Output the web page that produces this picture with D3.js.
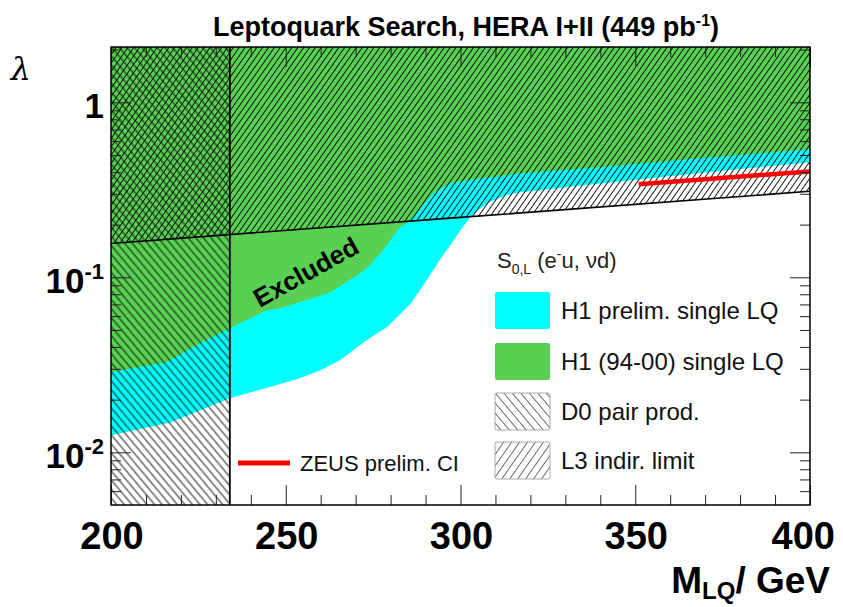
<!DOCTYPE html>
<html><head><meta charset="utf-8">
<script src="https://cdn.jsdelivr.net/npm/d3@7"></script>
<style>body{margin:0;background:#fff} svg{display:block}</style>
</head><body><svg id="c" width="843" height="607"></svg>
<script>
// ---- data ----
const massH1prelim   = [200, 217, 234, 245, 254, 260, 265.5, 273, 279, 285.5, 289, 294, 300, 303, 305, 308, 313, 317, 340, 368, 400];
const lambdaH1prelim = [0.0125, 0.0148, 0.0204, 0.0235, 0.0265, 0.0294, 0.0336, 0.0436, 0.052, 0.070, 0.0877, 0.125, 0.186, 0.223, 0.241, 0.268, 0.294, 0.306, 0.344, 0.393, 0.454];
const massH1old      = [200, 206, 216, 225.5, 234, 244.6, 248.4, 254, 262.7, 270.4, 273.2, 277.8, 282.7, 284.7, 286.4, 292.1, 297, 303.6, 311.3, 317, 340, 368.5, 400];
const lambdaH1old    = [0.0286, 0.0302, 0.0327, 0.042, 0.0511, 0.0648, 0.0665, 0.072, 0.082, 0.1026, 0.1125, 0.1427, 0.193, 0.204, 0.220, 0.302, 0.344, 0.363, 0.378, 0.393, 0.425, 0.479, 0.539];
const massL3   = [200, 300, 400];
const lambdaL3 = [0.156, 0.22, 0.31];
const massZeus   = [351, 400];
const lambdaZeus = [0.34, 0.403];
const massD0 = 234;
const xMajorTicks = [200, 250, 300, 350, 400];
const xTickLabels = ["200", "250", "300", "350", "400"];
const xMinorTicks = [210,220,230,240,260,270,280,290,310,320,330,340,360,370,380,390];
const yMajorTicks = [1, 0.1, 0.01];
const yTickLabels = [["1",""], ["10","-1"], ["10","-2"]];
const yMinorTicks = [0.006,0.007,0.008,0.009,0.02,0.03,0.04,0.05,0.06,0.07,0.08,0.09,0.2,0.3,0.4,0.5,0.6,0.7,0.8,0.9,2];
const legendNames = ["H1 prelim. single LQ", "H1 (94-00) single LQ", "D0 pair prod.", "L3 indir. limit"];

// ---- layout ----
const L = 111, R = 810, T = 47, B = 505;
const svg = d3.select("#c");
const x = d3.scaleLinear().domain([200, 400]).range([L, R]);
const y = d3.scaleLog().domain([0.005, 2.07]).range([B, T]);
const GREEN = "#59d053", CYAN = "#00ffff";
const FONT = "'Liberation Sans', Arial, Helvetica, sans-serif";

const defs = svg.append("defs");
defs.append("clipPath").attr("id", "plotclip").append("rect")
  .attr("x", L).attr("y", T).attr("width", R - L).attr("height", B - T);
function hatch(id, angle, spacing, color, width) {
  const p = defs.append("pattern").attr("id", id).attr("patternUnits", "userSpaceOnUse")
    .attr("width", spacing).attr("height", 20).attr("patternTransform", `rotate(${angle})`);
  p.append("line").attr("x1", spacing / 2).attr("x2", spacing / 2).attr("y1", -1).attr("y2", 21)
    .attr("stroke", color).attr("stroke-width", width);
}
hatch("hL3", 35, 4.8, "#000", 0.9);
hatch("hD0", -40, 5.8, "#000", 0.9);
hatch("hL3leg", 35, 6.5, "#444", 0.8);
hatch("hD0leg", -40, 6.5, "#444", 0.8);

const g = svg.append("g").attr("clip-path", "url(#plotclip)");
g.append("rect").attr("x", L).attr("y", T).attr("width", R - L).attr("height", B - T).attr("fill", "#fff");

const areaUp = d3.area().x(d => x(d[0])).y0(y(2.07) - 2).y1(d => y(d[1]));
g.append("path").datum(d3.zip(massH1prelim, lambdaH1prelim)).attr("d", areaUp).attr("fill", CYAN);
g.append("path").datum(d3.zip(massH1old, lambdaH1old)).attr("d", areaUp).attr("fill", GREEN);
g.append("path").datum(d3.zip(massL3, lambdaL3)).attr("d", areaUp).attr("fill", "url(#hL3)");
g.append("rect").attr("x", x(200)).attr("y", T).attr("width", x(massD0) - x(200)).attr("height", B - T)
  .attr("fill", "url(#hD0)");

const line = d3.line().x(d => x(d[0])).y(d => y(d[1]));
g.append("path").datum(d3.zip(massL3, lambdaL3)).attr("d", line).attr("fill", "none")
  .attr("stroke", "#000").attr("stroke-width", 1.6);
g.append("line").attr("x1", x(massD0)).attr("x2", x(massD0)).attr("y1", T).attr("y2", B)
  .attr("stroke", "#000").attr("stroke-width", 1.8);
g.append("path").datum(d3.zip(massZeus, lambdaZeus)).attr("d", line).attr("fill", "none")
  .attr("stroke", "#ff0000").attr("stroke-width", 4.5);

// Excluded label
svg.append("text").attr("transform", "translate(306,272) rotate(-29)")
  .attr("text-anchor", "middle").attr("dominant-baseline", "central")
  .attr("font-family", FONT).attr("font-weight", "bold").attr("font-size", 26).text("Excluded");

// ---- axes ticks ----
function ticks(axisFn, transform, values, size) {
  const a = svg.append("g").attr("transform", transform)
    .call(axisFn.tickValues(values).tickSize(-size).tickFormat(""));
  a.select(".domain").remove();
  a.selectAll("line").attr("stroke", "#222").attr("stroke-width", 1);
}
ticks(d3.axisBottom(x), `translate(0,${B})`, xMinorTicks, 10);
ticks(d3.axisBottom(x), `translate(0,${B})`, xMajorTicks, 20);
ticks(d3.axisTop(x), `translate(0,${T})`, xMinorTicks, 10);
ticks(d3.axisTop(x), `translate(0,${T})`, xMajorTicks, 20);
ticks(d3.axisLeft(y), `translate(${L},0)`, yMinorTicks, 10);
ticks(d3.axisLeft(y), `translate(${L},0)`, yMajorTicks, 20);
ticks(d3.axisRight(y), `translate(${R},0)`, yMinorTicks, 10);
ticks(d3.axisRight(y), `translate(${R},0)`, yMajorTicks, 20);

svg.append("rect").attr("x", L).attr("y", T).attr("width", R - L).attr("height", B - T)
  .attr("fill", "none").attr("stroke", "#000").attr("stroke-width", 1.5);

// ---- tick labels ----
xMajorTicks.forEach((v, i) => {
  const last = i === xMajorTicks.length - 1;
  svg.append("text").attr("x", last ? 835 : x(v) + 1).attr("y", 549)
    .attr("text-anchor", last ? "end" : "middle")
    .attr("font-family", FONT).attr("font-weight", "bold").attr("font-size", 38)
    .text(xTickLabels[i]);
});
yMajorTicks.forEach((v, i) => {
  const t = svg.append("text").attr("x", 104).attr("y", y(v) + 16).attr("text-anchor", "end")
    .attr("font-family", FONT).attr("font-weight", "bold").attr("font-size", 35);
  t.append("tspan").text(yTickLabels[i][0]);
  if (yTickLabels[i][1]) t.append("tspan").attr("dy", -14).attr("font-size", 22).text(yTickLabels[i][1]);
});

// axis titles
const xt = svg.append("text").attr("x", 830).attr("y", 593).attr("text-anchor", "end")
  .attr("font-family", FONT).attr("font-weight", "bold").attr("font-size", 37);
xt.append("tspan").text("M");
xt.append("tspan").attr("dy", 6).attr("font-size", 24).text("LQ");
xt.append("tspan").attr("dy", -6).text("/ GeV");
svg.append("text").attr("x", 21).attr("y", 80).attr("text-anchor", "middle")
  .attr("font-family", "'DejaVu Serif', serif").attr("font-style", "italic").attr("font-size", 32).text("λ");

// title
const tt = svg.append("text").attr("x", 466).attr("y", 36).attr("text-anchor", "middle")
  .attr("font-family", FONT).attr("font-weight", "bold").attr("font-size", 27);
tt.append("tspan").text("Leptoquark Search, HERA I+II (449 pb");
tt.append("tspan").attr("dy", -10).attr("font-size", 16).text("-1");
tt.append("tspan").attr("dy", 10).text(")");

// ---- legend ----
const lg = svg.append("g").attr("font-family", FONT);
const hdr = lg.append("text").attr("x", 497).attr("y", 268).attr("font-size", 22).attr("fill", "#222");
hdr.append("tspan").text("S");
hdr.append("tspan").attr("dy", 6).attr("font-size", 14).text("0,L");
hdr.append("tspan").attr("dy", -6).text(" (e");
hdr.append("tspan").attr("dy", -9).attr("font-size", 14).text("-");
hdr.append("tspan").attr("dy", 9).text("u, νd)");
const boxFill = [CYAN, GREEN, "url(#hD0leg)", "url(#hL3leg)"];
const rowY = [292, 343, 393, 442];
legendNames.forEach((n, i) => {
  lg.append("rect").attr("x", 495).attr("y", rowY[i]).attr("width", 55).attr("height", 37).attr("rx", 2)
    .attr("fill", boxFill[i]).attr("stroke", i < 2 ? "none" : "#aaa").attr("stroke-width", 1);
  lg.append("text").attr("x", 561).attr("y", rowY[i] + 27).attr("font-size", 24).attr("fill", "#111").text(n);
});
svg.append("line").attr("x1", 238).attr("x2", 290).attr("y1", 463).attr("y2", 463)
  .attr("stroke", "#ff0000").attr("stroke-width", 5);
svg.append("text").attr("x", 300).attr("y", 471).attr("font-family", FONT).attr("font-size", 22)
  .attr("fill", "#111").text("ZEUS prelim. CI");
</script></body></html>
